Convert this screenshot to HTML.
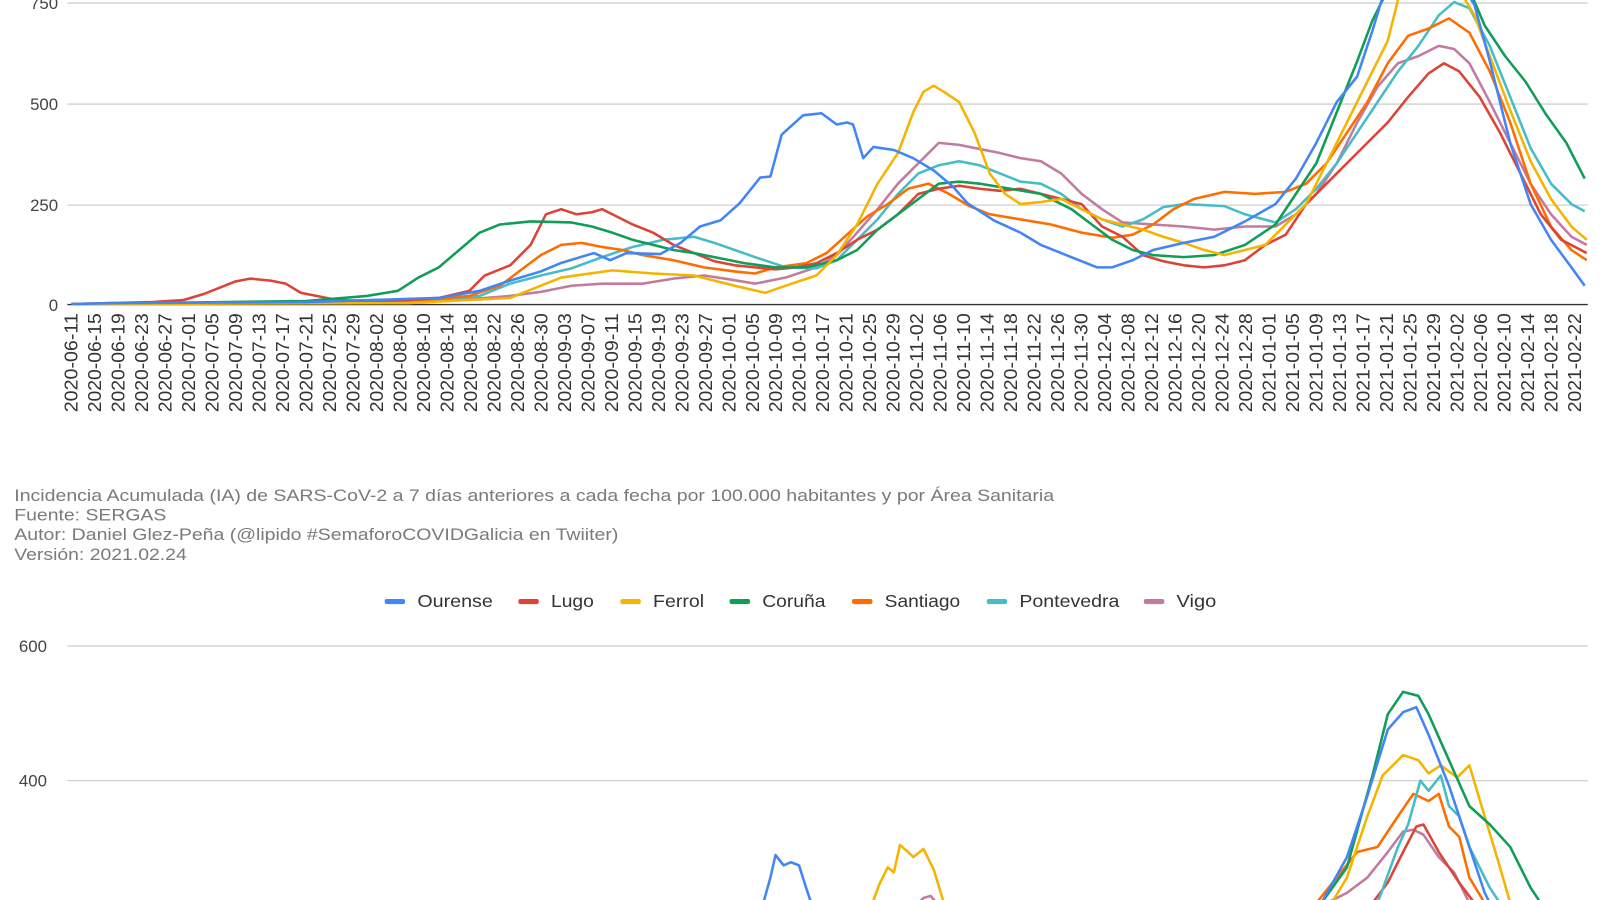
<!DOCTYPE html>
<html><head><meta charset="utf-8">
<style>
html,body{margin:0;padding:0;background:#fff;width:1600px;height:900px;overflow:hidden}
svg{display:block}
text{font-family:"Liberation Sans",Arial,sans-serif}
</style></head>
<body>
<svg id="s" width="1600" height="900" viewBox="0 0 1568 882" preserveAspectRatio="none" xmlns="http://www.w3.org/2000/svg">
<g stroke="#d0d0d0" stroke-width="1.3">
<line x1="66" y1="3" x2="1556" y2="3"/>
<line x1="66" y1="102" x2="1556" y2="102"/>
<line x1="66" y1="201" x2="1556" y2="201"/>
<line x1="66" y1="633" x2="1556" y2="633"/>
<line x1="66" y1="765" x2="1556" y2="765"/>
</g>
<line x1="66" y1="298.5" x2="1556" y2="298.5" stroke="#333" stroke-width="1.3"/>
<g font-size="16.5" fill="#444" text-anchor="end">
<text x="57" y="9">750</text>
<text x="57" y="108">500</text>
<text x="57" y="207">250</text>
<text x="57" y="305">0</text>
<text x="46" y="639">600</text>
<text x="46" y="771">400</text>
</g>
<g id="xl" font-size="18" fill="#333" text-anchor="end"></g>
<g font-size="16" fill="#7a7a7a" lengthAdjust="spacingAndGlyphs">
<text x="14" y="491" textLength="1019" lengthAdjust="spacingAndGlyphs">Incidencia Acumulada (IA) de SARS-CoV-2 a 7 días anteriores a cada fecha por 100.000 habitantes y por Área Sanitaria</text>
<text x="14" y="510" textLength="149" lengthAdjust="spacingAndGlyphs">Fuente: SERGAS</text>
<text x="14" y="529" textLength="592" lengthAdjust="spacingAndGlyphs">Autor: Daniel Glez-Peña (@lipido #SemaforoCOVIDGalicia en Twiiter)</text>
<text x="14" y="549" textLength="169" lengthAdjust="spacingAndGlyphs">Versión: 2021.02.24</text>
</g>
<g font-size="17" fill="#333">
<rect x="377" y="587" width="20" height="5" rx="2" fill="#4285f4"/><text x="409" y="595" textLength="74" lengthAdjust="spacingAndGlyphs">Ourense</text>
<rect x="508" y="587" width="20" height="5" rx="2" fill="#db4437"/><text x="540" y="595" textLength="42" lengthAdjust="spacingAndGlyphs">Lugo</text>
<rect x="608" y="587" width="20" height="5" rx="2" fill="#f4b400"/><text x="640" y="595" textLength="50" lengthAdjust="spacingAndGlyphs">Ferrol</text>
<rect x="715" y="587" width="20" height="5" rx="2" fill="#0f9d58"/><text x="747" y="595" textLength="62" lengthAdjust="spacingAndGlyphs">Coruña</text>
<rect x="835" y="587" width="20" height="5" rx="2" fill="#ff6d00"/><text x="867" y="595" textLength="74" lengthAdjust="spacingAndGlyphs">Santiago</text>
<rect x="967" y="587" width="20" height="5" rx="2" fill="#46bdc6"/><text x="999" y="595" textLength="98" lengthAdjust="spacingAndGlyphs">Pontevedra</text>
<rect x="1121" y="587" width="20" height="5" rx="2" fill="#c27ba0"/><text x="1153" y="595" textLength="39" lengthAdjust="spacingAndGlyphs">Vigo</text>
</g>
<g fill="none" stroke-width="2.5" stroke-linejoin="round">
<!-- top chart -->
<polyline stroke="#c27ba0" points="70,298 450,294 500,290 530,286 560,280 590,278 630,278 660,273 690,270 710,273 740,278 770,272 800,262 820,250 840,228 860,205 880,180 900,160 920,140 940,142 960,146 980,150 1000,155 1020,158 1040,170 1060,190 1080,205 1100,218 1130,220 1160,222 1190,225 1220,222 1250,222 1270,210 1290,190 1310,160 1330,120 1350,85 1370,62 1390,55 1410,45 1425,48 1440,62 1460,100 1480,140 1500,180 1520,210 1540,232 1555,240"/>
<polyline stroke="#46bdc6" points="70,298 400,296 470,290 500,278 530,270 560,263 590,252 620,242 650,235 680,232 700,238 720,245 740,252 770,262 800,263 820,255 840,235 860,215 880,190 900,170 920,162 940,158 960,162 980,170 1000,178 1020,180 1040,190 1060,205 1080,215 1100,222 1120,215 1140,203 1160,200 1200,202 1220,210 1250,218 1270,205 1290,185 1310,160 1330,130 1350,100 1370,70 1390,45 1410,15 1425,2 1440,8 1460,45 1480,95 1500,145 1520,180 1540,200 1553,207"/>
<polyline stroke="#ff6d00" points="70,298 400,296 460,290 490,280 510,265 530,250 550,240 570,238 590,242 610,245 630,250 660,255 690,262 720,266 740,268 760,262 790,258 810,248 830,230 850,212 870,200 890,185 910,180 930,190 950,202 970,210 1000,215 1030,220 1060,228 1090,233 1110,230 1130,220 1150,205 1170,195 1200,188 1230,190 1260,188 1280,180 1300,160 1320,130 1340,100 1360,62 1380,35 1400,28 1420,18 1440,32 1460,70 1480,120 1500,180 1520,222 1540,245 1555,255"/>
<polyline stroke="#db4437" points="70,298 150,296 180,294 200,288 215,282 230,276 245,273 265,275 280,278 295,287 310,290 330,294 360,295 400,294 430,292 460,285 475,270 500,260 520,240 535,210 550,205 565,210 580,208 590,205 600,210 620,220 640,228 660,240 680,248 700,256 720,260 740,262 760,264 780,262 800,258 820,248 840,235 860,225 880,210 900,190 920,185 940,182 960,185 980,187 1000,185 1020,190 1040,195 1060,200 1080,222 1100,232 1120,250 1140,256 1160,260 1180,262 1200,260 1220,255 1240,240 1260,230 1280,200 1300,180 1320,160 1340,140 1360,120 1380,95 1400,72 1415,62 1430,70 1450,95 1470,130 1490,170 1510,210 1530,235 1555,248"/>
<polyline stroke="#0f9d58" points="70,298 300,295 360,290 390,285 410,272 430,262 450,245 470,228 490,220 520,217 560,218 580,222 600,228 620,235 640,240 660,245 680,248 700,252 730,258 760,262 790,262 820,255 840,245 860,225 880,210 900,195 920,180 940,178 960,180 990,185 1020,190 1050,205 1070,220 1090,235 1110,245 1130,250 1160,252 1190,250 1220,240 1250,220 1270,190 1290,160 1310,110 1330,60 1345,20 1360,-10 1440,-10 1455,25 1475,55 1495,80 1515,112 1535,140 1553,175"/>
<polyline stroke="#f4b400" points="70,298 400,297 500,292 550,272 600,265 640,268 680,270 700,275 720,280 750,287 770,280 800,270 820,250 840,220 860,180 880,150 895,110 905,90 915,84 925,90 940,100 955,130 970,170 985,190 1000,200 1020,198 1040,195 1060,205 1080,215 1100,220 1120,225 1140,232 1160,238 1180,245 1200,250 1220,245 1240,240 1260,220 1280,200 1300,160 1320,120 1340,80 1360,40 1370,0 1390,-20 1430,-10 1445,15 1460,55 1480,108 1500,158 1520,195 1540,222 1555,235"/>
<polyline stroke="#4285f4" points="70,298 110,297 300,296 430,292 470,285 500,275 530,266 549,258 582,248 598,255 614,248 647,249 667,238 686,222 706,216 725,199 745,174 755,173 766,132 787,113 805,111 820,122 830,120 836,122 846,155 856,144 876,147 895,155 915,167 934,183 948,199 974,216 1000,228 1020,240 1050,252 1075,262 1090,262 1110,255 1130,245 1160,238 1190,232 1220,217 1250,200 1270,175 1290,140 1310,100 1330,75 1345,30 1360,-20 1430,-20 1445,5 1460,60 1480,140 1500,200 1520,235 1540,262 1553,280"/>
<!-- bottom chart -->
<polyline stroke="#4285f4" points="748,885 755,860 760,838 768,848 775,845 783,848 790,870 795,885"/>
<polyline stroke="#f4b400" points="855,885 862,866 870,850 876,855 882,828 890,835 895,840 905,832 915,852 925,885"/>
<polyline stroke="#c27ba0" points="900,885 905,880 912,878 918,885"/>
<polyline stroke="#c27ba0" points="1300,885 1320,875 1340,860 1360,835 1375,815 1385,813 1395,818 1410,840 1425,855 1440,885"/>
<polyline stroke="#db4437" points="1345,885 1360,865 1375,835 1388,810 1395,808 1410,835 1430,865 1445,885"/>
<polyline stroke="#ff6d00" points="1290,885 1310,860 1330,835 1350,830 1360,815 1370,800 1385,778 1400,785 1410,778 1420,810 1430,820 1440,860 1455,885"/>
<polyline stroke="#46bdc6" points="1350,885 1370,830 1380,808 1392,765 1400,775 1412,760 1420,790 1430,800 1440,830 1460,870 1470,885"/>
<polyline stroke="#f4b400" points="1305,885 1320,860 1340,800 1355,760 1375,740 1390,745 1400,758 1412,750 1428,762 1440,750 1455,800 1470,850 1480,885"/>
<polyline stroke="#0f9d58" points="1295,885 1320,850 1345,760 1360,700 1375,678 1390,682 1400,700 1420,745 1440,790 1460,808 1480,830 1500,870 1510,885"/>
<polyline stroke="#4285f4" points="1295,885 1320,840 1340,780 1360,715 1375,698 1388,693 1400,720 1420,770 1440,830 1455,875 1460,885"/>
</g>
</svg>
<script>
var g=document.getElementById('xl');
var d0=new Date(Date.UTC(2020,5,11));
for(var i=0;i<65;i++){
 var dt=new Date(d0.getTime()+i*4*86400000);
 var s=dt.toISOString().slice(0,10);
 var x=70+i*23.02;
 var t=document.createElementNS('http://www.w3.org/2000/svg','text');
 t.setAttribute('transform','translate('+(x+6)+',307) rotate(-90)');
 t.setAttribute('textLength','97');
 t.setAttribute('lengthAdjust','spacingAndGlyphs');
 t.textContent=s;g.appendChild(t);
}
</script>
</body></html>
